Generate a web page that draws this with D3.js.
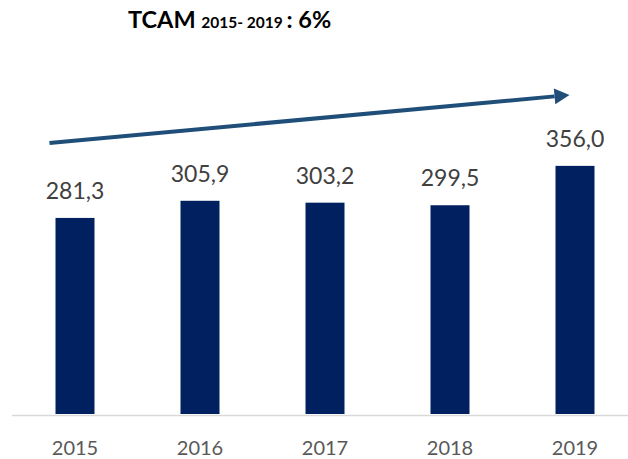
<!DOCTYPE html>
<html>
<head>
<meta charset="utf-8">
<script src="https://cdn.jsdelivr.net/npm/d3@7"></script>
<style>
  body { margin: 0; background: #fff; }
  svg { display: block; font-family: Lato, "Open Sans", sans-serif; }
</style>
</head>
<body>
<svg id="chart" width="628" height="459"></svg>
<script>
var years = ["2015", "2016", "2017", "2018", "2019"];
var values = [281.3, 305.9, 303.2, 299.5, 356.0];
var titleMain = "TCAM";
var titlePeriod = "2015- 2019";
var titleRate = ": 6%";

var svg = d3.select("#chart");

// x band: 125px step, bars about 39px wide
var x = d3.scaleBand()
    .domain(years)
    .range([12.5, 637.5])
    .paddingInner(0.688)
    .paddingOuter(0.344);

var y = d3.scaleLinear()
    .domain([0, 400])
    .range([414, 135.2]);

// title
var title = svg.append("text")
    .attr("x", 128)
    .attr("y", 28)
    .attr("font-weight", "bold")
    .attr("fill", "#000");
title.append("tspan").attr("font-size", 23.5).text(titleMain + " ");
title.append("tspan").attr("font-size", 15.5).text(titlePeriod + " ");
title.append("tspan").attr("font-size", 23.5).text(titleRate);

// bars
svg.append("g")
    .selectAll("rect")
    .data(values)
    .enter().append("rect")
    .attr("x", function(d, i) { return x(years[i]); })
    .attr("y", function(d) { return y(d); })
    .attr("width", x.bandwidth())
    .attr("height", function(d) { return y(0) - y(d); })
    .attr("fill", "#002060");

// baseline
svg.append("line")
    .attr("x1", 12)
    .attr("x2", 628)
    .attr("y1", y(0) + 1.5)
    .attr("y2", y(0) + 1.5)
    .attr("stroke", "#d9d9d9")
    .attr("stroke-width", 1.5);

// value labels
svg.append("g")
    .selectAll("text")
    .data(values)
    .enter().append("text")
    .attr("x", function(d, i) { return x(years[i]) + x.bandwidth() / 2; })
    .attr("y", function(d) { return y(d) - 19; })
    .attr("text-anchor", "middle")
    .attr("font-size", 23)
    .attr("fill", "#404040")
    .text(function(d) { return d.toFixed(1).replace(".", ","); });

// year labels
svg.append("g")
    .selectAll("text")
    .data(years)
    .enter().append("text")
    .attr("x", function(d) { return x(d) + x.bandwidth() / 2; })
    .attr("y", 455)
    .attr("text-anchor", "middle")
    .attr("font-size", 20)
    .attr("fill", "#595959")
    .text(function(d) { return d; });

// trend arrow
var ax0 = x(years[0]) - 6, ay0 = 143;
var ax1 = x(years[4]) + 14, ay1 = 95;
var ang = Math.atan2(ay1 - ay0, ax1 - ax0);
var headLen = 15, headW = 8;
var bx = ax1 - headLen * Math.cos(ang), by = ay1 - headLen * Math.sin(ang);
svg.append("line")
    .attr("x1", ax0).attr("y1", ay0)
    .attr("x2", bx).attr("y2", by)
    .attr("stroke", "#1f4e79")
    .attr("stroke-width", 4);
svg.append("path")
    .attr("d", "M" + ax1 + "," + ay1 +
        "L" + (bx + headW * Math.sin(ang)) + "," + (by - headW * Math.cos(ang)) +
        "L" + (bx - headW * Math.sin(ang)) + "," + (by + headW * Math.cos(ang)) + "Z")
    .attr("fill", "#1f4e79");
</script>
</body>
</html>
